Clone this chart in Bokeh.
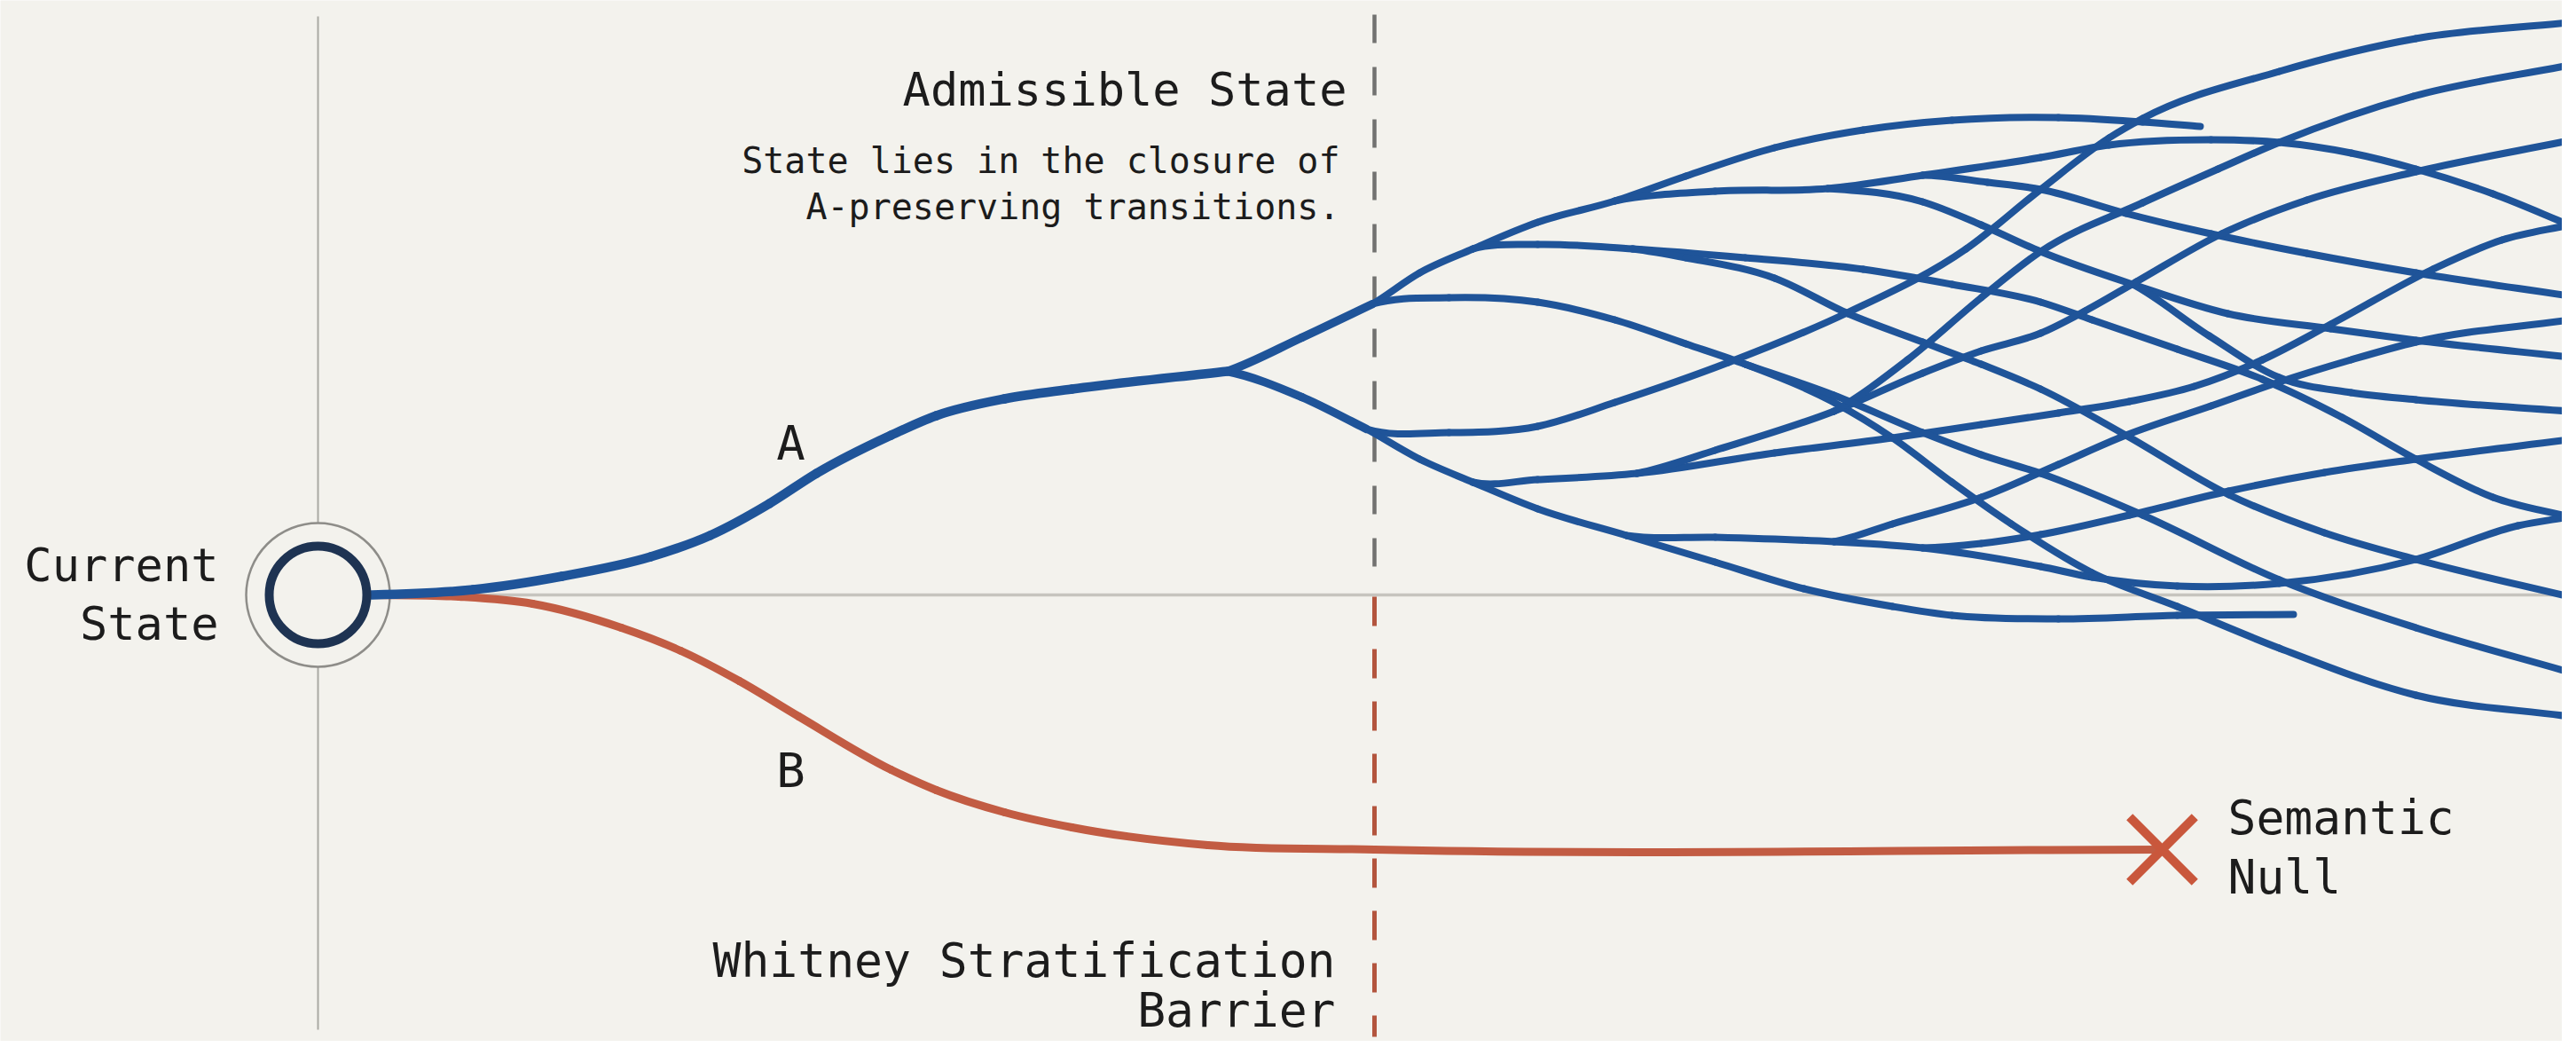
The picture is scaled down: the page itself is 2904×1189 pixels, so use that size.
import re
import numpy as np
from bokeh.plotting import figure
from bokeh.models import Range1d, ColumnDataSource
from bokeh.embed import file_html
from bokeh.resources import INLINE
from bokeh.core.properties import value

# ---------------------------------------------------------------------------
# DATA  (canvas units: x grows to the right, y grows downward)
# ---------------------------------------------------------------------------
ORIGIN = (358, 670)            # "Current State"
BARRIER_X = 1549               # Whitney stratification barrier
NULL_PT = (2437, 957)          # "Semantic Null"

AXIS_V = ([358, 358], [18, 1160])
AXIS_H = ([358, 2904], [670, 670])
BARRIER_UPPER = [16, 660]
BARRIER_LOWER = [672, 1168]

# every path: first knot = tangent anchor (parent knot), drawn from 2nd knot on
TRUNK_X = [300, 418, 533, 633, 733, 800, 867, 920, 1004, 1055, 1132, 1208, 1383]
TRUNK_Y = [670, 670, 664, 649, 627, 603, 567, 533, 490, 468, 449, 438, 418]

PATH_B_X = [300, 418, 517, 600, 700, 767, 833, 900, 1004, 1055, 1132, 1208, 1361, 1549, 2437]
PATH_B_Y = [670, 670, 672, 680, 707, 733, 767, 807, 867, 890, 915, 932, 952, 957, 957]

BRANCH_X = [[1208, 1383, 1467, 1547], [1208, 1383, 1467, 1540]]
BRANCH_Y = [[438, 418, 380, 342], [438, 418, 447, 483]]

FAN_X = [
    [1467, 1547, 1600, 1660, 1733, 1820, 1900, 2000, 2100, 2200, 2320, 2415, 2480],
    [1467, 1547, 1633, 1733, 1820, 1900, 1967, 2067, 2133, 2200, 2267, 2358, 2454, 2569, 2723, 2896],
    [1600, 1660, 1733, 1840, 1967, 2100, 2200, 2300, 2358, 2454, 2550, 2640, 2723, 2810, 2896],
    [1733, 1840, 1900, 2000, 2083, 2167, 2233, 2300, 2396, 2512, 2620, 2723, 2896],
    [1733, 1820, 1933, 2060, 2167, 2300, 2377, 2492, 2569, 2650, 2723, 2810, 2896],
    [1933, 2060, 2167, 2233, 2300, 2404, 2511, 2627, 2723, 2896],
    [2060, 2167, 2240, 2300, 2396, 2492, 2600, 2723, 2896],
    [2300, 2404, 2490, 2569, 2650, 2723, 2896],
    [1467, 1540, 1633, 1733, 1820, 1948, 2082, 2216, 2300, 2377, 2415, 2569, 2723, 2896],
    [1467, 1540, 1600, 1660, 1733, 1833, 1933, 2033, 2133, 2200, 2320, 2454, 2585],
    [1600, 1660, 1733, 1845, 2000, 2133, 2233, 2320, 2400, 2473, 2550, 2627, 2742, 2820, 2896],
    [1733, 1845, 1933, 2067, 2167, 2233, 2300, 2350, 2408, 2504, 2600, 2723, 2896],
    [1933, 2067, 2150, 2233, 2300, 2415, 2500, 2569, 2720, 2896],
    [1733, 1833, 1933, 2067, 2167, 2300, 2358, 2454, 2569, 2723, 2838, 2896],
    [1933, 2067, 2133, 2233, 2320, 2396, 2492, 2569, 2650, 2723, 2896],
    [2067, 2167, 2233, 2300, 2400, 2512, 2620, 2723, 2896],
    [1900, 1967, 2067, 2167, 2233, 2300, 2415, 2569, 2723, 2896],
]
FAN_Y = [
    [380, 342, 307, 280, 250, 226, 198, 166, 146, 135, 132, 137, 142],
    [380, 342, 335, 340, 360, 387, 410, 453, 493, 543, 590, 645, 683, 730, 783, 807],
    [307, 280, 275, 280, 290, 303, 320, 340, 360, 393, 427, 470, 517, 560, 582],
    [275, 280, 290, 313, 353, 385, 410, 438, 490, 557, 600, 630, 672],
    [250, 226, 215, 212, 197, 177, 163, 157, 160, 172, 190, 218, 253],
    [215, 212, 227, 253, 283, 320, 353, 370, 383, 402],
    [212, 197, 205, 213, 240, 263, 285, 307, 333],
    [283, 320, 378, 425, 442, 450, 463],
    [447, 483, 487, 480, 453, 408, 352, 280, 213, 155, 133, 80, 43, 25],
    [447, 483, 517, 543, 573, 603, 633, 663, 683, 693, 697, 693, 692],
    [517, 543, 540, 533, 510, 493, 478, 465, 452, 435, 405, 365, 303, 270, 253],
    [540, 533, 507, 463, 420, 395, 375, 350, 317, 263, 225, 193, 158],
    [507, 463, 405, 335, 283, 228, 190, 160, 108, 73],
    [573, 603, 605, 610, 617, 638, 650, 660, 657, 630, 592, 582],
    [605, 610, 590, 560, 523, 490, 457, 430, 405, 385, 360],
    [610, 617, 612, 602, 580, 553, 532, 517, 495],
    [387, 410, 445, 487, 512, 533, 580, 653, 707, 757],
]

# texts: anchor x, and vertical centre of the capitals
TITLE_TEXT = ["Admissible State"]
TITLE_POS = ([1518], [100])
NOTE_TEXT = ["State lies in the closure of", "A-preserving transitions."]
NOTE_POS = ([1510, 1510], [180, 232])
BARRIER_TEXT = ["Whitney Stratification", "Barrier"]
BARRIER_POS = ([1505, 1505], [1082, 1138])
START_TEXT = ["Current", "State"]
START_POS = ([246, 246], [636, 702])
NULL_TEXT = ["Semantic", "Null"]
NULL_POS = ([2511, 2511], [921, 988])
PATH_TEXT = ["A", "B"]
PATH_POS = ([891, 891], [499, 868])

# ---------------------------------------------------------------------------
BG = "#f3f2ed"
BLUE = "#1f5499"
RED = "#c25c43"
NAVY = "#1e3352"
INK = "#1c1c1c"
FONT = value("DejaVu Sans Mono")


def hermite_bezier(xs, ys):
    xs = np.asarray(xs, float)
    ys = np.asarray(ys, float)
    h = np.diff(xs)
    d = np.diff(ys) / h
    m = np.empty(len(xs))
    m[0] = d[0]
    m[-1] = d[-1]
    m[1:-1] = (h[1:] * d[:-1] + h[:-1] * d[1:]) / (h[:-1] + h[1:])
    i = np.arange(1, len(xs) - 1)
    hh = h[i]
    return dict(x0=xs[i], y0=ys[i], x1=xs[i + 1], y1=ys[i + 1],
                cx0=xs[i] + hh / 3, cy0=ys[i] + m[i] * hh / 3,
                cx1=xs[i + 1] - hh / 3, cy1=ys[i + 1] - m[i + 1] * hh / 3)


def many(xss, yss):
    parts = [hermite_bezier(x, y) for x, y in zip(xss, yss)]
    return {k: np.concatenate([p_[k] for p_ in parts]) for k in parts[0]}


BEZ = dict(x0="x0", y0="y0", x1="x1", y1="y1", cx0="cx0", cy0="cy0",
           cx1="cx1", cy1="cy1", line_cap="round")

p = figure(width=2888, height=1173,
           x_range=Range1d(0, 2888), y_range=Range1d(1173, 0),
           output_backend="svg", toolbar_location=None,
           x_axis_location=None, y_axis_location=None,
           min_border=0, background_fill_color=BG, border_fill_color=BG,
           outline_line_color=None)
p.grid.visible = False

# reference axes
p.line(AXIS_V[0], AXIS_V[1], line_color="#aaa9a4", line_width=2)
p.line(AXIS_H[0], AXIS_H[1], line_color="#c6c4be", line_width=3.5)

# barrier
p.line([BARRIER_X, BARRIER_X], BARRIER_UPPER, line_color="#727270",
       line_width=4.5, line_dash="32 27")
p.line([BARRIER_X, BARRIER_X], BARRIER_LOWER, line_color="#b3553e",
       line_width=5, line_dash="33 26")

# outer halo of the current state
p.scatter([ORIGIN[0]], [ORIGIN[1]], marker="circle", size=162,
          fill_color=BG, line_color="#8e8d89", line_width=2.5)

# path B (red)
p.bezier(source=ColumnDataSource(hermite_bezier(PATH_B_X, PATH_B_Y)),
         line_color=RED, line_width=9, **BEZ)

# fan of admissible transitions (blue)
p.bezier(source=ColumnDataSource(many(FAN_X, FAN_Y)),
         line_color=BLUE, line_width=8, **BEZ)
p.bezier(source=ColumnDataSource(many(BRANCH_X, BRANCH_Y)),
         line_color=BLUE, line_width=9.5, **BEZ)
p.bezier(source=ColumnDataSource(hermite_bezier(TRUNK_X, TRUNK_Y)),
         line_color=BLUE, line_width=10.5, **BEZ)

# current state node
p.scatter([ORIGIN[0]], [ORIGIN[1]], marker="circle", size=110,
          fill_color=BG, line_color=NAVY, line_width=10)

# semantic null
p.scatter([NULL_PT[0]], [NULL_PT[1]], marker="x", size=104,
          line_color="#c9573c", line_width=10)

# texts
TXT = dict(text_font=FONT, text_baseline="middle", text_color=INK)
p.text(TITLE_POS[0], TITLE_POS[1], text=TITLE_TEXT, text_font_size="52px",
       text_align="right", **TXT)
p.text(NOTE_POS[0], NOTE_POS[1], text=NOTE_TEXT, text_font_size="40px",
       text_align="right", **TXT)
p.text(BARRIER_POS[0], BARRIER_POS[1], text=BARRIER_TEXT, text_font_size="53px",
       text_align="right", **TXT)
p.text(START_POS[0], START_POS[1], text=START_TEXT, text_font_size="52px",
       text_align="right", **TXT)
p.text(NULL_POS[0], NULL_POS[1], text=NULL_TEXT, text_font_size="53px",
       text_align="left", **TXT)
p.text(PATH_POS[0], PATH_POS[1], text=PATH_TEXT, text_font_size="54px",
       text_align="center", **TXT)

html = file_html(p, INLINE, title="Admissible state transitions")
html = re.sub(r"<body([^>]*)>", r'<body\1 style="background:%s;">' % BG, html, count=1)
open("out.html", "w").write(html)
